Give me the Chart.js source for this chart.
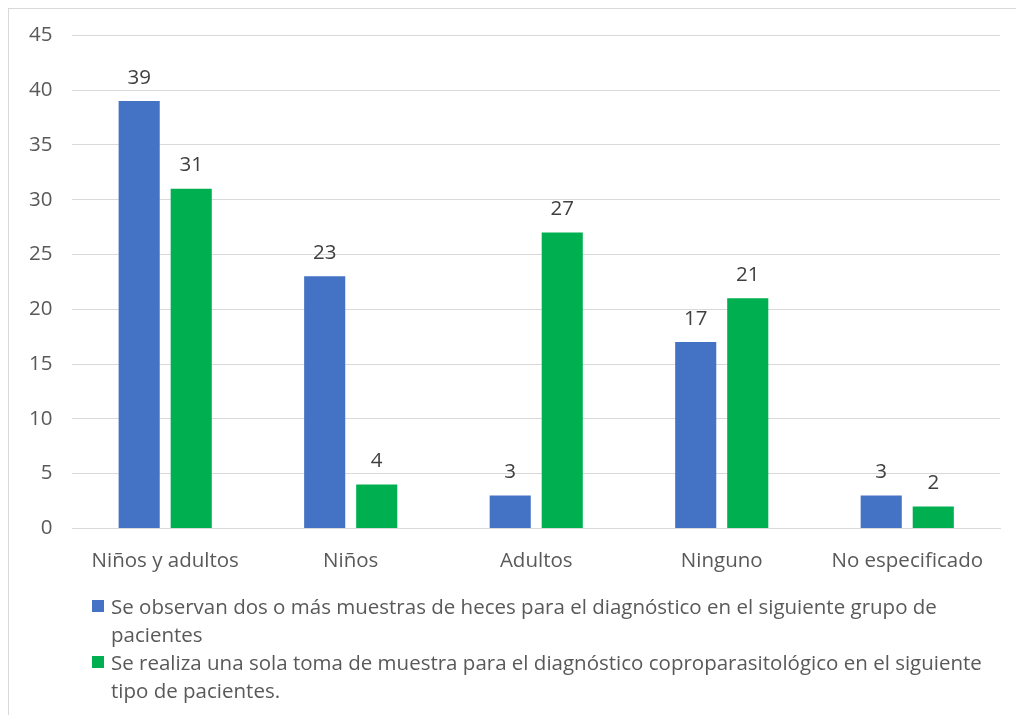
<!DOCTYPE html>
<html>
<head>
<meta charset="utf-8">
<script src="https://cdn.jsdelivr.net/npm/chart.js@4"></script>
<style>
  body { margin: 0; background: #fff; font-family: "Open Sans", sans-serif; }
  #frame { position: absolute; left: 8px; top: 8px; width: 1020px; height: 720px; border: 1px solid #d9d9d9; }
  #wrap { position: absolute; left: 0; top: -6px; width: 1000px; height: 591px; }
  #legend { position: absolute; left: 83px; top: 583px; width: 912px; color: #595959; font-size: 20.5px; line-height: 28px; }
  #legend .item { position: relative; padding-left: 19px; }
  #legend .box { position: absolute; left: 0; top: 8px; width: 12px; height: 12px; }
</style>
</head>
<body>
<div id="frame">
  <div id="wrap"><canvas id="main-chart"></canvas></div>
  <div id="legend"></div>
</div>
<script>
let categories = ['Niños y adultos', 'Niños', 'Adultos', 'Ninguno', 'No especificado'];
let serieA = [39, 23, 3, 17, 3];
let serieB = [31, 4, 27, 21, 2];
let labelA = 'Se observan dos o más muestras de heces para el diagnóstico en el siguiente grupo de pacientes';
let labelB = 'Se realiza una sola toma de muestra para el diagnóstico coproparasitológico en el siguiente tipo de pacientes.';
let colors = ['#4472C4', '#00B050'];

// labels above each bar
let barValues = {
    id: 'barValues',
    afterDatasetsDraw(chart) {
        let c = chart.ctx;
        c.save();
        c.font = '20.5px "Open Sans", sans-serif';
        c.fillStyle = '#404040';
        c.textAlign = 'center';
        c.textBaseline = 'bottom';
        chart.data.datasets.forEach(function (ds, i) {
            chart.getDatasetMeta(i).data.forEach(function (bar, j) {
                c.fillText(ds.data[j], bar.x, bar.y - 13);
            });
        });
        c.restore();
    }
};

let data = {
    labels: categories,
    datasets: [
        { label: labelA, data: serieA, backgroundColor: colors[0] },
        { label: labelB, data: serieB, backgroundColor: colors[1] }
    ]
};

let tickFont = { size: 20.5, family: '"Open Sans"' };

let options = {
    maintainAspectRatio: false,
    responsive: true,
    animation: false,
    layout: { padding: { top: 4, right: 9, bottom: 9, left: 0 } },
    datasets: { bar: { categoryPercentage: 0.561, barPercentage: 0.79 } },
    plugins: { legend: { display: false }, tooltip: { enabled: false } },
    scales: {
        x: {
            grid: { display: false },
            border: { color: '#d9d9d9' },
            ticks: { color: '#595959', font: tickFont, padding: 12 }
        },
        y: {
            min: 0, max: 45,
            ticks: { stepSize: 5, color: '#595959', font: tickFont, padding: 20 },
            grid: { color: '#d9d9d9', drawTicks: false },
            border: { display: false }
        }
    }
};

new Chart(document.getElementById('main-chart'), {
    type: 'bar',
    data: data,
    options: options,
    plugins: [barValues]
});

let $legend = document.getElementById('legend');
data.datasets.forEach(function (ds) {
    let item = document.createElement('div');
    item.className = 'item';
    item.innerHTML = '<span class="box" style="background:' + ds.backgroundColor + '"></span>';
    item.appendChild(document.createTextNode(ds.label));
    $legend.appendChild(item);
});
</script>
</body>
</html>
